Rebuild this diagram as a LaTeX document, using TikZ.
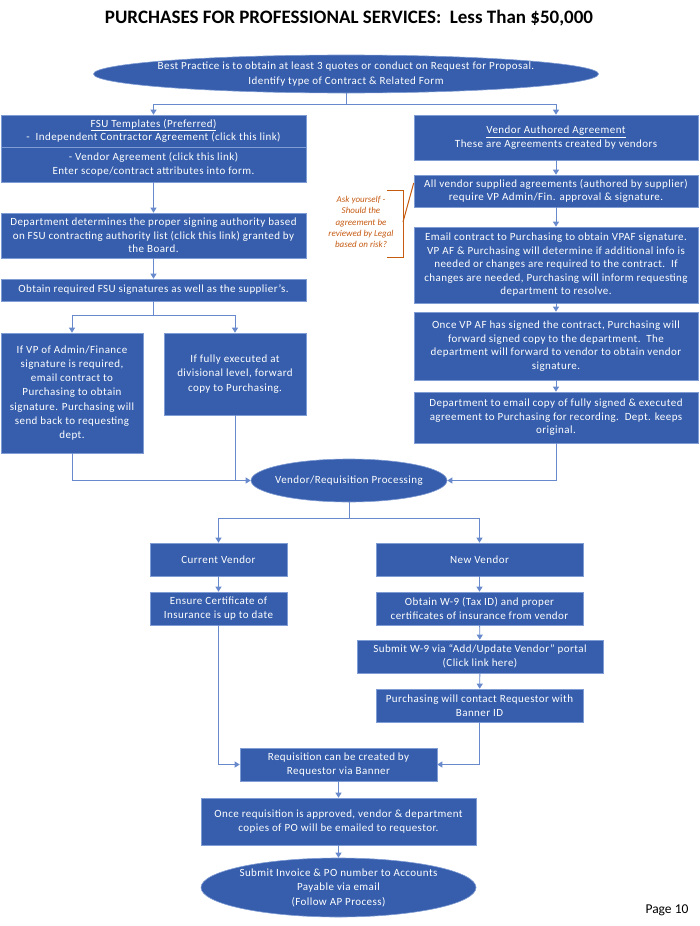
\documentclass[tikz,border=0pt]{standalone}
\usepackage{fontspec}
\setmainfont{Carlito}
\newfontfamily\boxfont{Carlito}[LetterSpace=4]
\usetikzlibrary{arrows.meta,shapes.geometric}
\definecolor{boxblue}{RGB}{54,94,172}
\definecolor{edgeblue}{RGB}{128,156,212}
\definecolor{linkblue}{RGB}{104,138,204}
\definecolor{askorange}{RGB}{197,90,17}

\begin{document}
\begin{tikzpicture}[x=1pt,y=-1pt,
	box/.style={draw=edgeblue,line width=0.6pt,fill=boxblue,text=white,align=center,inner sep=1pt,
		font=\boxfont\fontsize{11}{13.5}\selectfont},
	oval/.style={box,ellipse,inner xsep=-40pt,inner ysep=0pt},
	link/.style={draw=linkblue,line width=0.9pt},
	arr/.style={link,-{Triangle[width=6pt,length=5pt]}}]
	\useasboundingbox (0,0) rectangle (700,926);
	
	\node[font=\fontsize{19}{21}\selectfont\bfseries] (title) at (349,18) {PURCHASES FOR PROFESSIONAL SERVICES:~~Less Than \$50,000};
	
	\node[oval,minimum width=505pt,minimum height=38pt,font=\boxfont\fontsize{11}{15.5}\selectfont] (start) at (346,74) {Best Practice is to obtain at least 3 quotes or conduct on Request for Proposal.\\Identify type of Contract \& Related Form};
	
	% left column
	\node[box,minimum width=305pt,minimum height=32pt] (fsua) at (153.5,131) {\underline{FSU Templates (Preferred)}\\-~~Independent Contractor Agreement (click this link)};
	\node[box,minimum width=305pt,minimum height=35pt] (fsub) at (153.5,164.5) {- Vendor Agreement (click this link)\\Enter scope/contract attributes into form.};
	\node[box,minimum width=305pt,minimum height=45pt] (dept) at (153.5,235.5) {Department determines the proper signing authority based\\on FSU contracting authority list (click this link) granted by\\the Board.};
	\node[box,minimum width=305pt,minimum height=22pt] (sign) at (153.5,290) {Obtain required FSU signatures as well as the supplier’s.};
	\node[box,minimum width=142pt,minimum height=120pt,font=\boxfont\fontsize{11}{14.3}\selectfont] (vpfin) at (72,393) {If VP of Admin/Finance\\signature is required,\\email contract to\\Purchasing to obtain\\signature. Purchasing will\\send back to requesting\\dept.};
	\node[box,minimum width=142pt,minimum height=82pt,font=\boxfont\fontsize{11}{14.3}\selectfont] (divis) at (235,374) {If fully executed at\\divisional level, forward\\copy to Purchasing.};
	
	% right column
	\node[box,minimum width=284pt,minimum height=45pt] (vaa) at (556,137.5) {\underline{Vendor Authored Agreement}\\These are Agreements created by vendors};
	\node[box,minimum width=284pt,minimum height=32pt] (allv) at (556,191) {All vendor supplied agreements (authored by supplier)\\require VP Admin/Fin. approval \& signature.};
	\node[box,minimum width=284pt,minimum height=76pt] (email) at (556,265) {Email contract to Purchasing to obtain VPAF signature.\\VP AF \& Purchasing will determine if additional info is\\needed or changes are required to the contract.~~If\\changes are needed, Purchasing will inform requesting\\department to resolve.};
	\node[box,minimum width=284pt,minimum height=68pt] (oncevp) at (556,346) {Once VP AF has signed the contract, Purchasing will\\forward signed copy to the department.~~The\\department will forward to vendor to obtain vendor\\signature.};
	\node[box,minimum width=284pt,minimum height=51pt] (deptem) at (556,417.5) {Department to email copy of fully signed \& executed\\agreement to Purchasing for recording.~~Dept. keeps\\original.};
	
	% legal note
	\node[text=askorange,align=center,font=\fontsize{9}{11.3}\selectfont\itshape] (ask) at (361,222) {Ask yourself -\\Should the\\agreement be\\reviewed by Legal\\based on risk?};
	\coordinate (brtop) at (387,190);
	\coordinate (brbot) at (387,257);
	\coordinate (brmid) at (403,222);
	\draw[askorange,line width=1pt] (brtop) -- (403,190) -- (403,257) -- (brbot);
	\draw[askorange,line width=1pt] (brmid) -- ([yshift=8pt]allv.west);
	
	\node[oval,minimum width=196pt,minimum height=43pt] (vrp) at (349,480.5) {Vendor/Requisition Processing};
	
	% vendor part
	\node[box,minimum width=137pt,minimum height=33pt] (curv) at (218.5,559.5) {Current Vendor};
	\node[box,minimum width=207pt,minimum height=33pt] (newv) at (479.5,559.5) {New Vendor};
	\node[box,minimum width=137pt,minimum height=33pt] (ensure) at (218.5,608.5) {Ensure Certificate of\\Insurance is up to date};
	\node[box,minimum width=207pt,minimum height=33pt] (obtw9) at (479.5,608.5) {Obtain W-9 (Tax ID) and proper\\certificates of insurance from vendor};
	\node[box,minimum width=246pt,minimum height=33pt] (subw9) at (480,656.5) {Submit W-9 via “Add/Update Vendor” portal\\(Click link here)};
	\node[box,minimum width=207pt,minimum height=33pt] (purch) at (479.5,705.5) {Purchasing will contact Requestor with\\Banner ID};
	\node[box,minimum width=197pt,minimum height=33pt] (req) at (338.5,764.5) {Requisition can be created by\\Requestor via Banner};
	\node[box,minimum width=275pt,minimum height=47pt] (once) at (338.5,821.5) {Once requisition is approved, vendor \& department\\copies of PO will be emailed to requestor.};
	\node[oval,minimum width=275pt,minimum height=59pt,font=\boxfont\fontsize{11}{14.5}\selectfont] (submit) at (338.5,887.5) {Submit Invoice \& PO number to Accounts\\Payable via email\\(Follow AP Process)};
	
	\node[font=\fontsize{13.5}{15}\selectfont] (page) at (667,910) {Page 10};
	
	% connectors
	\coordinate (split1) at (346,104);
	\draw[link] (start.south) -- (split1);
	\draw[arr] (split1) -| (fsua.north);
	\draw[arr] (split1) -| (vaa.north);
	
	\draw[arr] (fsub) -- (dept);
	\draw[arr] (dept) -- (sign);
	\coordinate (split2) at (153.5,315);
	\draw[link] (sign) -- (split2);
	\draw[arr] (split2) -| (vpfin.north);
	\draw[arr] (split2) -| (divis.north);
	\draw[arr] (vpfin.south) |- (vrp.west);
	\draw[link] (divis.south) -- (divis.south |- vrp.west);
	
	\draw[arr] (vaa) -- (allv);
	\draw[arr] (allv) -- (email);
	\draw[arr] (email) -- (oncevp);
	\draw[arr] (oncevp) -- (deptem);
	\draw[arr] (deptem.south) |- (vrp.east);
	
	\coordinate (split3) at (349,518);
	\draw[link] (vrp.south) -- (split3);
	\draw[arr] (split3) -| (curv.north);
	\draw[arr] (split3) -| (newv.north);
	
	\draw[arr] (curv) -- (ensure);
	\draw[arr] (newv) -- (obtw9);
	\draw[arr] (obtw9) -- (subw9);
	\draw[arr] (subw9) -- (purch);
	\draw[arr] (ensure.south) |- (req.west);
	\draw[arr] (purch.south) |- (req.east);
	\draw[arr] (req) -- (once);
	\draw[arr] (once) -- (submit);
\end{tikzpicture}
\end{document}
